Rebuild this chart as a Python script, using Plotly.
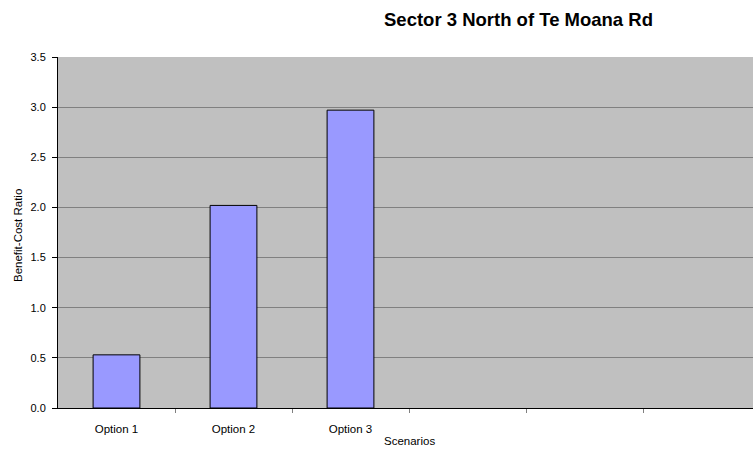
import plotly.graph_objects as go

categories = ["Option 1", "Option 2", "Option 3"]
values = [0.53, 2.02, 2.97]
n_slots = 6
y_ticks = [0.0, 0.5, 1.0, 1.5, 2.0, 2.5, 3.0, 3.5]

W, H = 753, 452
left, top, bottom = 58, 57, 44
slot_px = 117.0
plot_w = W - left
x_max = -0.5 + plot_w / slot_px

fig = go.Figure()
fig.add_trace(go.Bar(
    x=list(range(len(categories))), y=values,
    width=0.4,
    marker=dict(color="#9999FF", line=dict(color="black", width=1)),
))

font = "Liberation Sans, Arial, sans-serif"
fig.update_layout(
    width=W, height=H,
    margin=dict(l=left, r=0, t=top, b=bottom),
    paper_bgcolor="white", plot_bgcolor="#C0C0C0",
    showlegend=False,
    font=dict(family=font, size=11, color="black"),
    xaxis=dict(
        range=[-0.5, x_max],
        tickvals=list(range(len(categories))), ticktext=categories,
        ticks="", showgrid=False, zeroline=False,
        showline=True, linecolor="black", linewidth=1,
        tickfont=dict(size=11.5), ticklabelstandoff=10,
        minor=dict(tickvals=[i + 0.5 for i in range(n_slots - 1)], ticks="outside",
                   ticklen=4, tickcolor="#808080", showgrid=False),
    ),
    yaxis=dict(
        range=[0, 3.5], tickvals=y_ticks, ticktext=[f"{v:.1f}" for v in y_ticks],
        ticks="outside", ticklen=5, tickcolor="black",
        showgrid=True, gridcolor="#808080", gridwidth=1, zeroline=False,
        showline=True, linecolor="black", linewidth=1,
        tickfont=dict(size=11), ticklabelstandoff=4,
    ),
    annotations=[
        dict(text="<b>Sector 3 North of Te Moana Rd</b>", x=518, y=H - 19,
             xref="paper", yref="paper", showarrow=False,
             font=dict(size=18.5, family=font)),
        dict(text="Scenarios", x=409, y=H - 441, showarrow=False,
             font=dict(size=11.5, family=font)),
        dict(text="Benefit-Cost Ratio", x=18, y=H - 236, textangle=-90, showarrow=False,
             font=dict(size=11.5, family=font)),
    ],
)
# convert pixel annotation positions to paper coordinates
anns = []
for a in fig.layout.annotations:
    a = a.to_plotly_json()
    a["xref"] = "paper"; a["yref"] = "paper"
    a["x"] = (a["x"] - left) / plot_w
    a["y"] = (a["y"] - bottom) / (H - top - bottom)
    a["xanchor"] = "center"; a["yanchor"] = "middle"
    anns.append(a)
fig.update_layout(annotations=anns)

fig.write_html("out.html")
